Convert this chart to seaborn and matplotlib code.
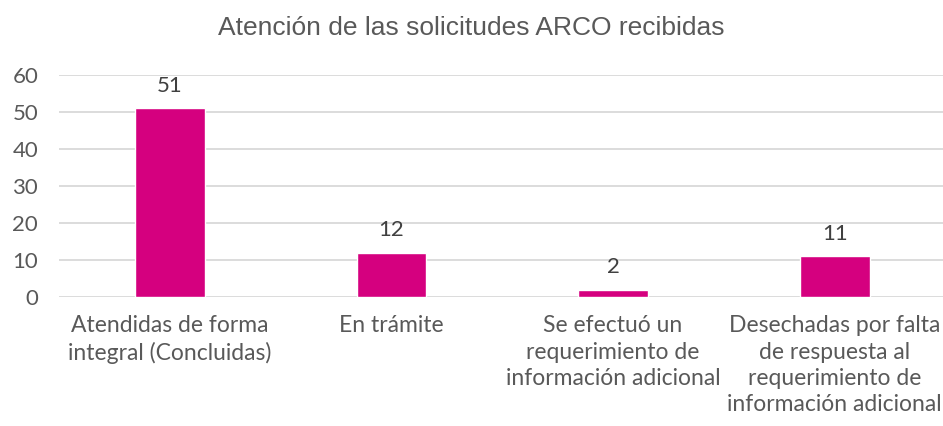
import matplotlib
matplotlib.use('Agg')
import matplotlib.pyplot as plt
import seaborn as sns
import pandas as pd

# Data
categorias = ['Atendidas de forma\nintegral (Concluidas)',
              'En trámite',
              'Se efectuó un\nrequerimiento de\ninformación adicional',
              'Desechadas por falta\nde respuesta al\nrequerimiento de\ninformación adicional']
valores = [51, 12, 2, 11]
y_ticks = [0, 10, 20, 30, 40, 50, 60]

df = pd.DataFrame({'cat': categorias, 'val': valores})

sns.set_style('white')
plt.rcParams['font.family'] = ['Lato', 'DejaVu Sans']

fig = plt.figure(figsize=(9.43, 4.26), dpi=100)
ax = fig.add_axes([0.0626, 0.3028, 0.94, 0.5212])

sns.barplot(data=df, x='cat', y='val', color='#D5007F', width=0.315,
            saturation=1, ax=ax, zorder=3)

for i, v in enumerate(valores):
    ax.annotate(str(v), (i, v), xytext=(0, 9), textcoords='offset points',
                ha='center', va='bottom', fontsize=16, color='#404040')

ax.set_ylim(0, 60)
ax.set_xlim(-0.5, 3.5)
ax.set_yticks(y_ticks)
ax.yaxis.grid(True, color='#D9D9D9', linewidth=1.3, zorder=0)
ax.set_axisbelow(True)
for s in ax.spines.values():
    s.set_visible(False)
ax.set_xlabel('')
ax.set_ylabel('')
ax.tick_params(axis='y', labelsize=16, labelcolor='#595959', length=0, pad=15)
ax.tick_params(axis='x', labelsize=16.5, labelcolor='#595959', length=0, pad=13)
for lbl in ax.get_xticklabels():
    lbl.set_linespacing(1.32)

fig.text(0.5, 0.934, 'Atención de las solicitudes ARCO recibidas', ha='center',
         va='center', fontsize=19, color='#595959', family='Liberation Sans')

fig.savefig('out.png', dpi=100)
